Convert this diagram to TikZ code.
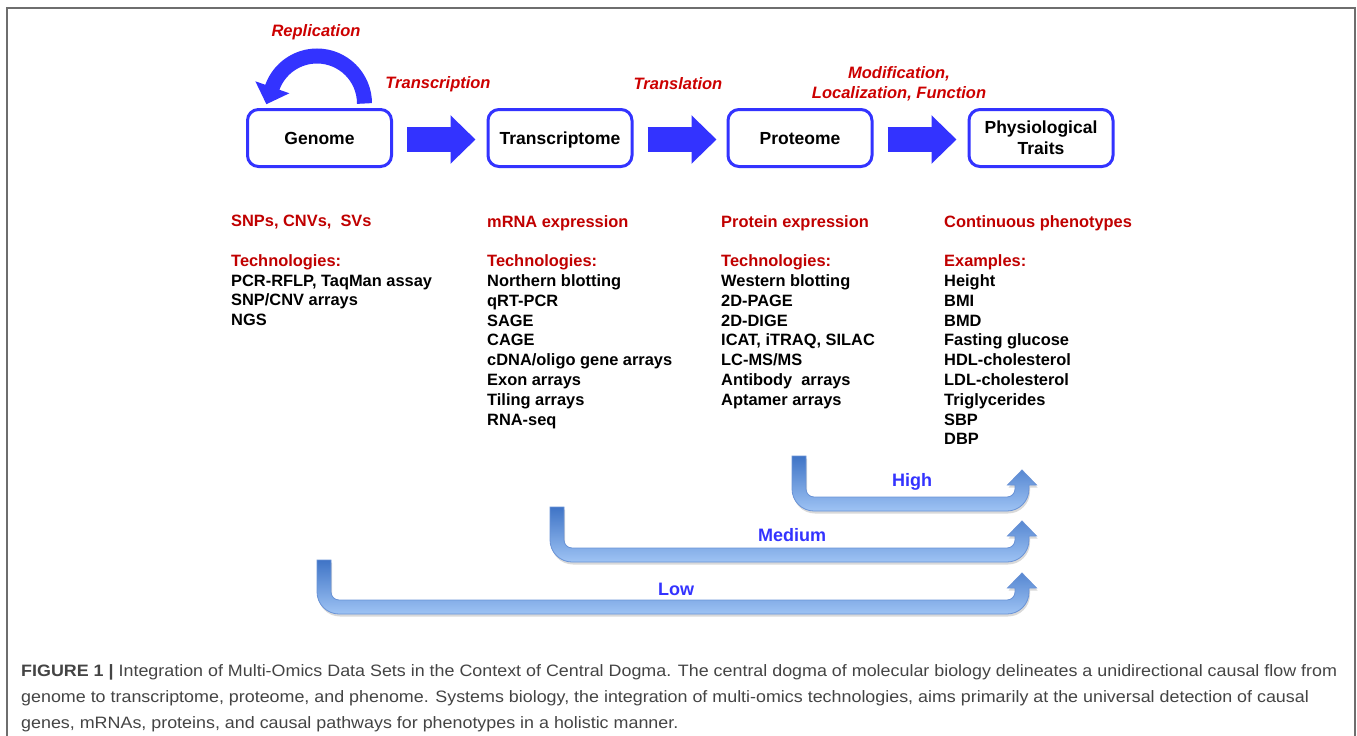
\documentclass[tikz,border=0pt]{standalone}
\usepackage{fontspec}
\setmainfont{Liberation Sans}
\newfontfamily\capfont[FakeStretch=1.084]{Liberation Sans}
\usetikzlibrary{arrows.meta,calc,shadows}
\definecolor{dblue}{HTML}{3333FF}
\definecolor{dred}{HTML}{C00000}
\definecolor{ired}{HTML}{CC0000}
\definecolor{capgray}{HTML}{444444}
\definecolor{framegray}{HTML}{6E6E6E}
\definecolor{arrtop}{HTML}{3F74C6}
\definecolor{arrbot}{HTML}{9EC3F4}
\definecolor{arredge}{HTML}{6A93D6}
\newcommand{\omicsarrow}[3]{%
\path[omics] ({#1-7},#2) -- ({#1-7},{#3-15})
  .. controls ({#1-7},{#3-2.85}) and ({#1+2.85},{#3+7}) .. ({#1+15},{#3+7})
  -- (1007,{#3+7})
  .. controls (1019.15,{#3+7}) and (1029,{#3-2.85}) .. (1029,{#3-15})
  -- (1029,{#3-19}) -- (1036.5,{#3-19}) -- (1022,{#3-34}) -- (1007.5,{#3-19})
  -- (1015,{#3-19}) -- (1015,{#3-15})
  .. controls (1015,{#3-10.58}) and (1011.42,{#3-7}) .. (1007,{#3-7})
  -- ({#1+15},{#3-7})
  .. controls ({#1+10.58},{#3-7}) and ({#1+7},{#3-10.58}) .. ({#1+7},{#3-15})
  -- ({#1+7},#2) -- cycle;}
\begin{document}
\begin{tikzpicture}[x=1pt,y=-1pt,
  stage/.style={draw=dblue, line width=3pt, rounded corners=11pt, minimum width=144pt, minimum height=57pt, inner sep=0pt, font=\fontsize{17.5}{21}\selectfont\bfseries, align=center},
  oneline/.style={text height=12.5pt, text depth=0pt},
  flow/.style={dblue, line width=25pt, -{Triangle[width=47pt,length=25pt]}},
  proc/.style={font=\fontsize{16.5}{20}\selectfont\bfseries\itshape, text=ired, inner sep=0pt, align=center},
  col/.style={anchor=north west, inner sep=0pt, align=left, font=\fontsize{16.4}{19.8}\selectfont\bfseries},
  lvl/.style={font=\fontsize{18}{21}\selectfont\bfseries, text=dblue, inner sep=0pt},
  omics/.style={top color=arrtop, bottom color=arrbot, draw=arredge, line width=0.8pt, drop shadow={opacity=0.3, shadow xshift=1pt, shadow yshift=-2.5pt}},
  captext/.style={anchor=base west, inner sep=0pt, text=capgray, font=\capfont\fontsize{16.5}{26}\selectfont}
]
\useasboundingbox (0,0) rectangle (1357,736);
\draw[framegray, line width=2pt] (7,736) -- (7,8) -- (1355,8) -- (1355,736);

% stages
\node[stage,oneline] (g) at (319.5,138) {Genome};
\node[stage,oneline] (t) at (560,138) {Transcriptome};
\node[stage,oneline] (p) at (800,138) {Proteome};
\node[stage] (f) at (1041,138) {Physiological\\Traits};

\draw[flow] ($(g.east)+(14,1.5)$) -- ($(t.west)+(-11,1.5)$);
\draw[flow] ($(t.east)+(14,1.5)$) -- ($(p.west)+(-10,1.5)$);
\draw[flow] ($(p.east)+(14,1.5)$) -- ($(f.west)+(-11,1.5)$);

\draw[dblue, line width=15pt, -{Triangle[width=35pt,length=18pt]}] ($(g.north)+(45,-4.5)$) arc (0:-160:47.5) -- ++(-6,17);

% process labels
\node[proc] (rep) at (316,32) {Replication};
\node[proc] (tsc) at (438,84) {Transcription};
\node[proc] (tsl) at (678,84) {Translation};
\node[proc] (mod) at (899,84) {Modification,\\Localization, Function};

% columns
\node[col] (c1) at (231,215) {\textcolor{dred}{SNPs, CNVs,\ \ SVs}\\\mbox{}\\\textcolor{dred}{Technologies:}\\PCR-RFLP, TaqMan assay\\SNP/CNV arrays\\NGS};
\node[col] (c2) at (487,215) {\textcolor{dred}{mRNA expression}\\\mbox{}\\\textcolor{dred}{Technologies:}\\Northern blotting\\qRT-PCR\\SAGE\\CAGE\\cDNA/oligo gene arrays\\Exon arrays\\Tiling arrays\\RNA-seq};
\node[col] (c3) at (721,215) {\textcolor{dred}{Protein expression}\\\mbox{}\\\textcolor{dred}{Technologies:}\\Western blotting\\2D-PAGE\\2D-DIGE\\ICAT, iTRAQ, SILAC\\LC-MS/MS\\Antibody\ \ arrays\\Aptamer arrays};
\node[col] (c4) at (944,215) {\textcolor{dred}{Continuous phenotypes}\\\mbox{}\\\textcolor{dred}{Examples:}\\Height\\BMI\\BMD\\Fasting glucose\\HDL-cholesterol\\LDL-cholesterol\\Triglycerides\\SBP\\DBP};

% omics level arrows
\omicsarrow{799}{456}{504}
\omicsarrow{557}{507}{555}
\omicsarrow{324}{560}{607}
\node[lvl] (hi) at (912,482) {High};
\node[lvl] (me) at (792,535) {Medium};
\node[lvl] (lo) at (676,589) {Low};

% caption
\node[captext] (cap1) at (21,676) {\textbf{FIGURE 1 |} Integration of Multi-Omics Data Sets in the Context of Central Dogma. The central dogma of molecular biology delineates a unidirectional causal flow from};
\node[captext] (cap2) at (21,702) {genome to transcriptome, proteome, and phenome. Systems biology, the integration of multi-omics technologies, aims primarily at the universal detection of causal};
\node[captext] (cap3) at (21,728) {genes, mRNAs, proteins, and causal pathways for phenotypes in a holistic manner.};
\end{tikzpicture}
\end{document}
